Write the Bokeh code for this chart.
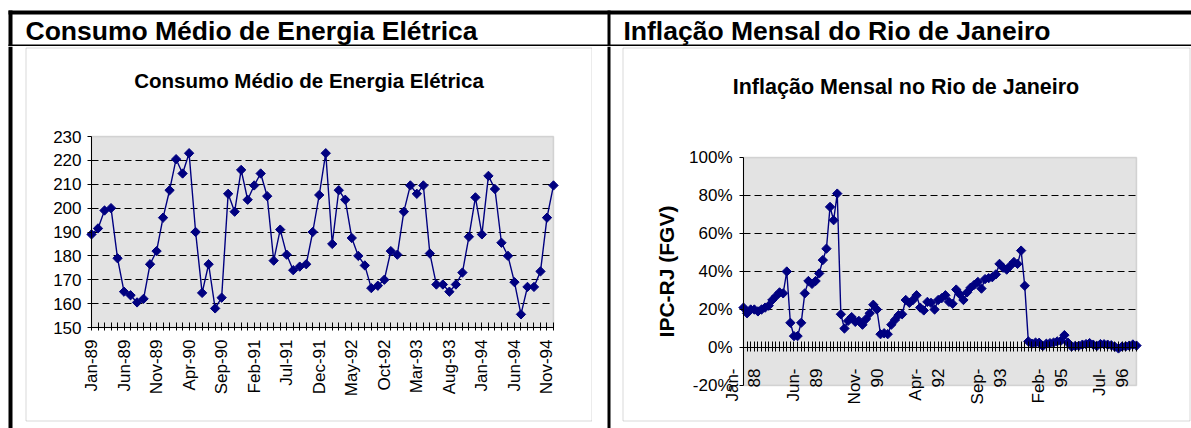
import math
from bokeh.plotting import figure
from bokeh.layouts import column, row
from bokeh.models import (Range1d, LinearAxis, FixedTicker, Grid, BoxAnnotation, Label,
                          PrintfTickFormatter, ColumnDataSource)
from bokeh.embed import file_html
from bokeh.resources import INLINE

FONT = "Liberation Sans"

# ---------------- data ----------------
header_left = "Consumo Médio de Energia Elétrica"
header_right = "Inflação Mensal do Rio de Janeiro"
title_energy = "Consumo Médio de Energia Elétrica"
title_infl = "Inflação Mensal no Rio de Janeiro"
infl_axis_label = "IPC-RJ (FGV)"

energy_months = [f"{m}-{y}" for y in ["89", "90", "91", "92", "93", "94"]
                 for m in ["Jan", "Feb", "Mar", "Apr", "May", "Jun",
                           "Jul", "Aug", "Sep", "Oct", "Nov", "Dec"]]
energy_tick_labels = ["Jan-89", "Jun-89", "Nov-89", "Apr-90", "Sep-90", "Feb-91", "Jul-91",
                      "Dec-91", "May-92", "Oct-92", "Mar-93", "Aug-93", "Jan-94", "Jun-94", "Nov-94"]
energy_values = [
    189, 191.5, 199, 200, 179, 165, 163.5, 160.5, 162, 176.5, 182, 196,
    207.5, 220.5, 214.5, 223, 190, 164.5, 176.5, 158, 162.5, 206, 198.5, 216,
    203.5, 209.5, 214.5, 205, 178, 191, 180.5, 174, 175.5, 176.5, 190, 205.5,
    223, 185, 207.5, 203.5, 187.5, 180, 176, 166.5, 167.5, 170, 182, 180.5,
    198.5, 209.5, 206, 209.5, 181, 168, 168, 165, 168, 173, 188, 204.5,
    189, 213.5, 208, 185.5, 180, 169, 155.5, 167, 167, 173.5, 196, 209.5,
]
energy_yticks = [150, 160, 170, 180, 190, 200, 210, 220, 230]

infl_months = [f"{m}-{y}" for y in ["88", "89", "90", "91", "92", "93", "94", "95", "96", "97"]
               for m in ["Jan", "Feb", "Mar", "Apr", "May", "Jun",
                         "Jul", "Aug", "Sep", "Oct", "Nov", "Dec"]][:110]
infl_tick_labels = ["Jan-88", "Jun-89", "Nov-90", "Apr-92", "Sep-93", "Feb-95", "Jul-96"]
infl_values = [
    21, 18, 20, 20, 19, 20, 21, 22, 25, 27, 29, 28.5,
    40, 13, 6, 6, 13, 28.5, 35, 33.5, 35, 39, 46, 52,
    74, 67, 81, 17.5, 10, 14, 16, 13.5, 14, 12, 15, 18,
    22.5, 20, 7, 7.5, 7, 12, 14.5, 17, 17.5, 25, 23.5, 25,
    27.5, 21, 19.5, 24, 23.5, 20, 25, 26, 27.5, 24, 23, 30.5,
    28, 25, 29, 31.5, 33, 34.5, 31, 36, 36.5, 37, 38.5, 44,
    42, 41, 43, 45, 44, 51, 32.5, 3.2, 2, 2.6, 2.5, 0.8,
    2, 2.3, 2.6, 3.2, 3.5, 6.5, 2.5, 0.5, 0.8, 0.9, 1.5, 1.8,
    2.3, 1.5, 0.8, 1.8, 1.7, 1.5, 1.2, 0.4, -0.5, 0.5, 0.6, 1.0,
    1.6, 1.0,
]
infl_yticks = [-20, 0, 20, 40, 60, 80, 100]

NAVY = "#000080"
PLOT_BG = "#E3E3E3"
AREA_BORDER = "#8A8A8A"
BOX_BORDER = "#808080"
BASE_FIX = 0.34   # empirical shift of the alphabetic baseline (fraction of font size)


def bare_figure(w, h, x_range, y_range):
    p = figure(width=w, height=h, x_range=x_range, y_range=y_range,
               x_axis_location=None, y_axis_location=None, toolbar_location=None,
               output_backend="svg", min_border=0, outline_line_color=None,
               background_fill_color="white", border_fill_color="white")
    p.grid.visible = False
    p.title.visible = False
    try:
        p.title = None
    except Exception:
        pass
    return p


class Frame:
    """Map local canvas pixels (from top-left) to data for layout-only items."""
    def __init__(self, x0, pxu, y_top, pyu):
        self.x0, self.pxu, self.y_top, self.pyu = x0, pxu, y_top, pyu

    def x(self, px):
        return self.x0 + px / self.pxu

    def y(self, py):
        return self.y_top - py / self.pyu


def black_box(p, f, l, r, t, b, color="black"):
    p.add_layout(BoxAnnotation(left=f.x(l), right=f.x(r), top=f.y(t), bottom=f.y(b),
                               fill_color=color, fill_alpha=1, line_color=None))


def text_label(p, f, px, base_py, txt, size, bold=True, align="left"):
    p.add_layout(Label(x=f.x(px), y=f.y(base_py - BASE_FIX * size), text=txt,
                       text_align=align, text_baseline="alphabetic", text_font=FONT,
                       text_font_style="bold" if bold else "normal",
                       text_font_size=f"{size}px", text_color="black"))


# ---------------- header (table top, page y 0..46) ----------------
HW, HH = 1191, 46
header = bare_figure(HW, HH, Range1d(0, HW), Range1d(0, HH))
hf = Frame(0, 1.0, HH, 1.0)
black_box(header, hf, 8, HW, 10, 14)      # top border
black_box(header, hf, 8, HW, 44, 46)      # line under headers
black_box(header, hf, 8, 12, 10, 46)      # left border
black_box(header, hf, 607, 610, 10, 46)   # middle divider
text_label(header, hf, 25, 40, header_left, 26.5)
text_label(header, hf, 623, 40, header_right, 26.5)

BH = 382   # body: page y 46..428

# ---------------- left chart (page x 0..592) ----------------
W1 = 592
n1 = len(energy_values)
pxu1 = 462.0 / (n1 - 1)          # gray area local x 91..553
pyu1 = 191.0 / 80.0              # gray area local y 90..281
x0_1 = -91 / pxu1
ytop1 = 230 + 90 / pyu1
f1 = Frame(x0_1, pxu1, ytop1, pyu1)
p1 = bare_figure(W1, BH, Range1d(x0_1, f1.x(W1)), Range1d(f1.y(BH), ytop1))
black_box(p1, f1, 8, 12, 0, BH)                      # table left border
p1.add_layout(BoxAnnotation(left=f1.x(25.5), right=f1.x(591.5), top=f1.y(1.5),
                            bottom=f1.y(374.5), fill_color=None, line_color=BOX_BORDER,
                            line_width=1, level="image"))
p1.add_layout(BoxAnnotation(left=0, right=n1 - 1, bottom=150, top=230, fill_color=PLOT_BG,
                            fill_alpha=1, line_color=AREA_BORDER, line_width=1.5, level="image"))
p1.add_layout(Grid(dimension=1, ticker=FixedTicker(ticks=energy_yticks[1:-1]),
                   cross_bounds=(0, n1 - 1), grid_line_color="black",
                   grid_line_dash="7 4", grid_line_width=1))
ya1 = LinearAxis(fixed_location=0, bounds=(150, 230), ticker=FixedTicker(ticks=energy_yticks),
                 major_tick_out=4, major_tick_in=0, major_label_standoff=6,
                 major_label_text_font=FONT, major_label_text_font_size="17px",
                 major_label_text_color="black", axis_line_color="black",
                 major_tick_line_color="black")
p1.add_layout(ya1, "left")
ov1 = {i: (m if m in energy_tick_labels else "") for i, m in enumerate(energy_months)}
xa1 = LinearAxis(fixed_location=150, bounds=(0, n1 - 1), ticker=FixedTicker(ticks=list(range(n1))),
                 major_label_overrides=ov1, major_label_orientation=math.pi / 2,
                 major_tick_out=3, major_tick_in=5, major_label_standoff=9,
                 major_label_text_font=FONT, major_label_text_font_size="17px",
                 major_label_text_color="black", axis_line_color="black",
                 major_tick_line_color="black")
p1.add_layout(xa1, "below")
src1 = ColumnDataSource(dict(x=list(range(n1)), y=energy_values))
p1.line("x", "y", source=src1, line_color=NAVY, line_width=1.4)
p1.scatter("x", "y", source=src1, marker="square", angle=math.pi / 4, size=6.6,
           fill_color=NAVY, line_color=NAVY)
text_label(p1, f1, (25 + 592) / 2, 41.3, title_energy, 20.5, align="center")

# ---------------- right chart (page x 592..1191) ----------------
W2 = 599
n2 = len(infl_values)
pxu2 = 393.0 / (n2 - 1)          # gray area local x 151..544
pyu2 = 228.0 / 120.0             # gray area local y 111..339
x0_2 = -151 / pxu2
ytop2 = 100 + 111 / pyu2
f2 = Frame(x0_2, pxu2, ytop2, pyu2)
p2 = bare_figure(W2, BH, Range1d(x0_2, f2.x(W2)), Range1d(f2.y(BH), ytop2))
black_box(p2, f2, 15, 18, 0, BH)                    # table middle divider
p2.add_layout(BoxAnnotation(left=f2.x(30.5), right=f2.x(597.5), top=f2.y(1.5),
                            bottom=f2.y(374.5), fill_color=None, line_color=BOX_BORDER,
                            line_width=1, level="image"))
p2.add_layout(BoxAnnotation(left=0, right=n2 - 1, bottom=-20, top=100, fill_color=PLOT_BG,
                            fill_alpha=1, line_color=AREA_BORDER, line_width=1.5, level="image"))
p2.add_layout(Grid(dimension=1, ticker=FixedTicker(ticks=[20, 40, 60, 80]),
                   cross_bounds=(0, n2 - 1), grid_line_color="black",
                   grid_line_dash="7 4", grid_line_width=1))
ya2 = LinearAxis(fixed_location=0, bounds=(-20, 100), ticker=FixedTicker(ticks=infl_yticks),
                 formatter=PrintfTickFormatter(format="%d%%"),
                 major_tick_out=4, major_tick_in=0, major_label_standoff=7,
                 major_label_text_font=FONT, major_label_text_font_size="17px",
                 major_label_text_color="black", axis_line_color="black",
                 major_tick_line_color="black",
                 axis_label=infl_axis_label, axis_label_text_font=FONT,
                 axis_label_text_font_style="bold", axis_label_text_font_size="21px",
                 axis_label_standoff=8, axis_label_text_color="black")
p2.add_layout(ya2, "left")
ov2 = {}
for i, m in enumerate(infl_months):
    ov2[i] = m.replace("-", "-\n") if m in infl_tick_labels else ""
xa2 = LinearAxis(fixed_location=0, bounds=(0, n2 - 1), ticker=FixedTicker(ticks=list(range(n2))),
                 major_label_overrides=ov2, major_label_orientation=math.pi / 2,
                 major_tick_out=4, major_tick_in=6, major_label_standoff=17,
                 major_label_text_font=FONT, major_label_text_font_size="17px",
                 major_label_text_color="black", axis_line_color="black",
                 major_tick_line_color="black")
p2.add_layout(xa2, "below")
src2 = ColumnDataSource(dict(x=list(range(n2)), y=infl_values))
p2.line("x", "y", source=src2, line_color=NAVY, line_width=1.4)
p2.scatter("x", "y", source=src2, marker="square", angle=math.pi / 4, size=6.6,
           fill_color=NAVY, line_color=NAVY)
text_label(p2, f2, (30 + 597) / 2, 48, title_infl, 21.5, align="center")

layout = column(header, row(p1, p2, spacing=0), spacing=0)

with open("out.html", "w") as f:
    f.write(file_html(layout, INLINE))
